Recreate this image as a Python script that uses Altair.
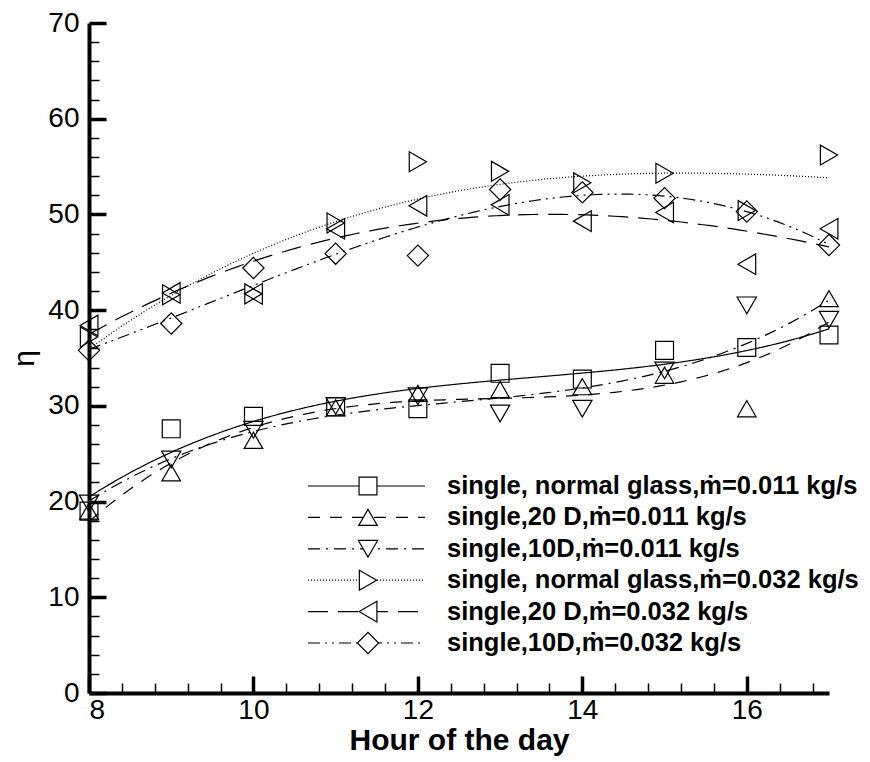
import altair as alt
import pandas as pd

hours = [8, 9, 10, 11, 12, 13, 14, 15, 16, 17]

series_names = [
    "single, normal glass,ṁ=0.011 kg/s",
    "single,20 D,ṁ=0.011 kg/s",
    "single,10D,ṁ=0.011 kg/s",
    "single, normal glass,ṁ=0.032 kg/s",
    "single,20 D,ṁ=0.032 kg/s",
    "single,10D,ṁ=0.032 kg/s",
]

eta_ng_011 = [19.0, 27.6, 28.9, 29.9, 29.7, 33.4, 32.8, 35.8, 36.1, 37.4]
eta_20d_011 = [19.0, 23.0, 26.4, 29.8, 31.3, 31.7, 32.0, 33.2, 29.7, 41.2]
eta_10d_011 = [19.8, 24.4, 27.5, 30.0, 31.0, 29.2, 29.7, 33.7, 40.5, 39.0]
eta_ng_032 = [37.2, 41.6, 41.7, 49.1, 55.5, 54.5, 53.3, 54.3, 50.4, 56.2]
eta_20d_032 = [38.4, 41.8, 41.7, 48.5, 50.9, 51.0, 49.3, 50.2, 44.8, 48.5]
eta_10d_032 = [35.8, 38.6, 44.4, 45.9, 45.7, 52.6, 52.3, 51.7, 50.3, 46.8]

all_series = [eta_ng_011, eta_20d_011, eta_10d_011, eta_ng_032, eta_20d_032, eta_10d_032]

x_major = [8, 10, 12, 14, 16]
x_minor = [8.4, 8.8, 9.2, 9.6, 10.4, 10.8, 11.2, 11.6, 12.4, 12.8, 13.2, 13.6,
           14.4, 14.8, 15.2, 15.6, 16.4, 16.8]
y_major = [0, 10, 20, 30, 40, 50, 60, 70]
y_minor = [2, 4, 6, 8, 12, 14, 16, 18, 22, 24, 26, 28, 32, 34, 36, 38,
           42, 44, 46, 48, 52, 54, 56, 58, 62, 64, 66, 68]

shapes = ["square", "triangle-up", "triangle-down", "triangle-right", "triangle-left", "diamond"]
sizes = [320, 450, 450, 450, 450, 520]
dashes = [[1, 0], [12, 10], [12, 6, 2, 6], [1, 2], [20, 10], [12, 5, 2, 5, 2, 5]]
widths = [1.2, 1.2, 1.2, 3, 1.2, 1.2]

rows = []
for name, vals in zip(series_names, all_series):
    for h, v in zip(hours, vals):
        rows.append({"hour": h, "eta": v, "series": name})
df = pd.DataFrame(rows)

legend_df = pd.DataFrame({"series": series_names, "row": list(range(len(series_names)))})

FONT = "Liberation Sans"

xs = alt.Scale(domain=[8, 17], nice=False, zero=False)
ys = alt.Scale(domain=[0, 70], nice=False, zero=False)
shape_scale = alt.Scale(domain=series_names, range=shapes)
size_scale = alt.Scale(domain=series_names, range=sizes)
dash_scale = alt.Scale(domain=series_names, range=dashes)
width_scale = alt.Scale(domain=series_names, range=widths)

main_x_axis = alt.Axis(
    orient="bottom", values=x_major, format="d", ticks=False, tickSize=0,
    domainWidth=4, domainColor="black", labelFont=FONT, labelFontSize=28,
    labelColor="black", labelPadding=3, grid=False,
    titleFont=FONT, titleFontSize=30, titleFontWeight="bold", titleColor="black",
    titlePadding=1,
)
main_y_axis = alt.Axis(
    orient="left", values=y_major, format="d", ticks=False, tickSize=0,
    domainWidth=4, domainColor="black", labelFont=FONT, labelFontSize=28,
    labelColor="black", labelPadding=10, grid=False,
    titleFont=FONT, titleFontSize=30, titleFontWeight="normal", titleColor="black",
    titleAngle=270, titlePadding=8,
)

lines = alt.Chart(df).transform_regression(
    "hour", "eta", groupby=["series"], method="poly", order=3, extent=[8, 17]
).mark_line(color="black").encode(
    x=alt.X("hour:Q", scale=xs, axis=main_x_axis, title="Hour of the day"),
    y=alt.Y("eta:Q", scale=ys, axis=main_y_axis, title="η"),
    strokeDash=alt.StrokeDash("series:N", scale=dash_scale, legend=None),
    strokeWidth=alt.StrokeWidth("series:N", scale=width_scale, legend=None),
    detail="series:N",
)

points = alt.Chart(df).mark_point(color="black", filled=False, strokeWidth=1.2, opacity=1).encode(
    x=alt.X("hour:Q", scale=xs, title=None, axis=alt.Axis(
        orient="top", offset=-670, values=x_major, labels=False, domain=False,
        tickSize=17, tickWidth=3.5, tickColor="black", grid=False)),
    y=alt.Y("eta:Q", scale=ys, title=None, axis=alt.Axis(
        orient="right", offset=-740, values=y_major, labels=False, domain=False,
        tickSize=17, tickWidth=3.5, tickColor="black", grid=False)),
    shape=alt.Shape("series:N", scale=shape_scale, legend=None),
    size=alt.Size("series:N", scale=size_scale, legend=None),
)

minor = alt.Chart(df).mark_point(opacity=0).encode(
    x=alt.X("hour:Q", scale=xs, title=None, axis=alt.Axis(
        orient="top", offset=-670, values=x_minor, labels=False, domain=False,
        tickSize=10, tickWidth=1.5, tickColor="black", grid=False)),
    y=alt.Y("eta:Q", scale=ys, title=None, axis=alt.Axis(
        orient="right", offset=-740, values=y_minor, labels=False, domain=False,
        tickSize=10, tickWidth=1.5, tickColor="black", grid=False)),
)

leg_base = alt.Chart(legend_df).transform_calculate(ly="463 + datum.row * 31.4")

leg_lines = leg_base.mark_rule(color="black", strokeWidth=1.2).encode(
    x=alt.value(219), x2=alt.value(336),
    y=alt.Y("ly:Q", scale=None),
    strokeDash=alt.StrokeDash("series:N", scale=dash_scale, legend=None),
    strokeWidth=alt.StrokeWidth("series:N", scale=width_scale, legend=None),
)
leg_pts = leg_base.mark_point(color="black", filled=False, strokeWidth=1.2, opacity=1, fill="white").encode(
    x=alt.value(279),
    y=alt.Y("ly:Q", scale=None),
    shape=alt.Shape("series:N", scale=shape_scale, legend=None),
    size=alt.Size("series:N", scale=size_scale, legend=None),
)
leg_text = leg_base.mark_text(
    align="left", baseline="middle", font=FONT, fontSize=25.5, fontWeight="bold", color="black"
).encode(
    x=alt.value(358),
    y=alt.Y("ly:Q", scale=None),
    text="series:N",
)

chart = alt.layer(lines, points, minor, leg_lines, leg_pts, leg_text).resolve_scale(
    y="independent"
).resolve_axis(
    x="independent", y="independent"
).properties(
    width=740, height=670,
    autosize=alt.AutoSizeParams(type="none"),
    padding={"left": 89, "top": 23, "right": 41, "bottom": 69},
    background="white",
).configure_view(stroke=None)

chart.save("out.html", embed_options={"renderer": "svg", "actions": False})
